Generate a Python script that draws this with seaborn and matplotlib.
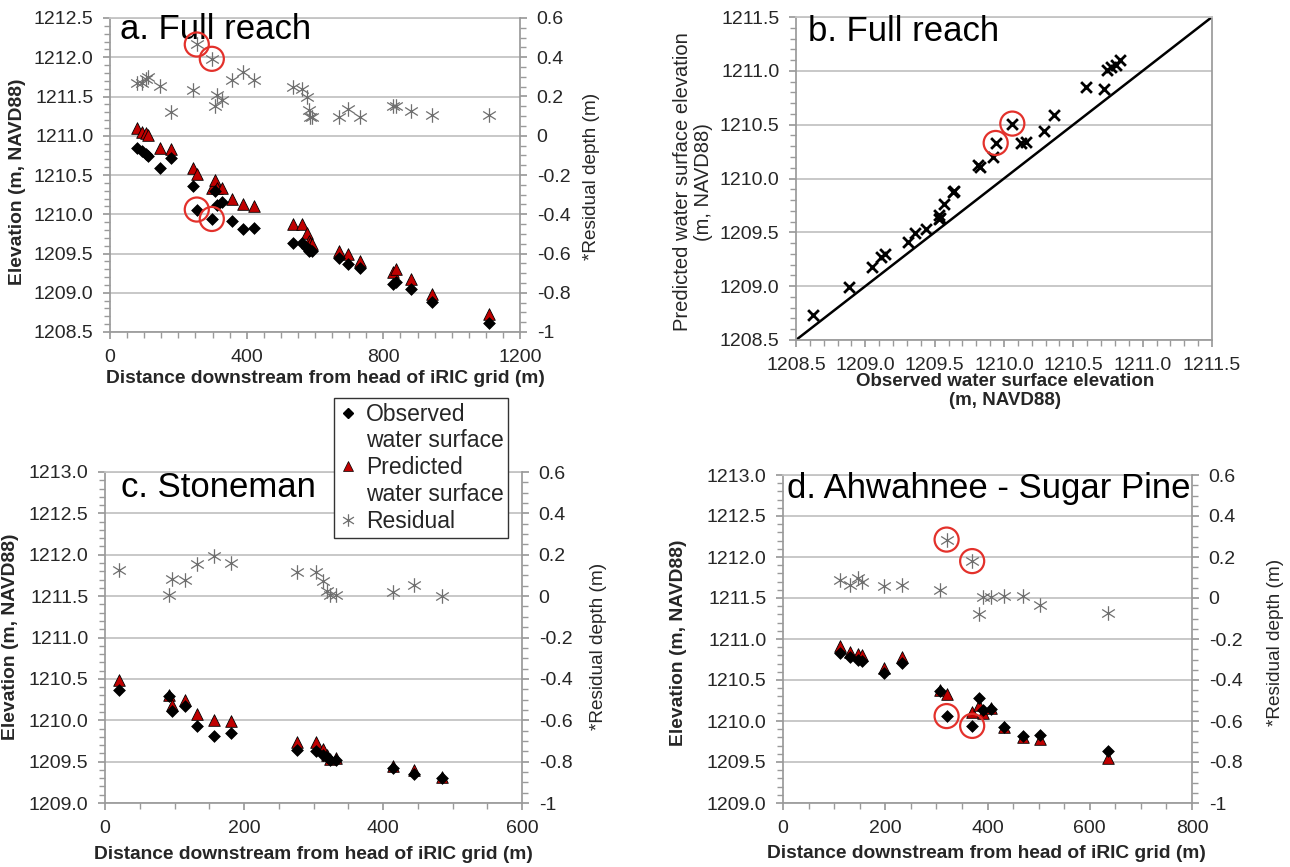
#! /usr/bin/env python3

import matplotlib
matplotlib.use("Agg")
import seaborn as sns
import matplotlib.pyplot as plt
from matplotlib.path import Path
from matplotlib.lines import Line2D
from matplotlib.ticker import MultipleLocator, FuncFormatter

# a. / b. Full reach
full_dist = [80, 93, 104, 110, 146, 178, 244, 254, 298, 307, 314, 329, 357, 390, 422,
             535, 563, 576, 582, 585, 591, 670, 697, 733, 828, 836, 882, 941, 1109]
full_obs = [1210.84, 1210.81, 1210.77, 1210.74, 1210.59, 1210.72, 1210.36, 1210.06, 1209.94,
            1210.29, 1210.12, 1210.16, 1209.92, 1209.81, 1209.83, 1209.64, 1209.63, 1209.57,
            1209.53, 1209.54, 1209.53, 1209.44, 1209.36, 1209.31, 1209.11, 1209.14, 1209.05,
            1208.88, 1208.62]
full_pred = [1211.10, 1211.05, 1211.04, 1211.01, 1210.85, 1210.83, 1210.59, 1210.51, 1210.33,
             1210.44, 1210.33, 1210.34, 1210.20, 1210.13, 1210.11, 1209.88, 1209.87, 1209.76,
             1209.66, 1209.63, 1209.62, 1209.53, 1209.49, 1209.41, 1209.27, 1209.30, 1209.18,
             1208.99, 1208.73]
full_resid = [0.27, 0.27, 0.29, 0.30, 0.254, 0.123, 0.234, 0.465, 0.392, 0.152, 0.209, 0.183,
              0.282, 0.323, 0.282, 0.246, 0.24, 0.197, 0.132, 0.097, 0.094, 0.097, 0.136,
              0.094, 0.151, 0.151, 0.128, 0.105, 0.105]
full_circled = [7, 8]
one_to_one = [1208.5, 1211.5]

# c. Stoneman
stone_dist = [20, 92, 97, 115, 132, 157, 181, 276, 304, 313, 320, 324, 333, 415, 444, 485]
stone_obs = [1210.36, 1210.29, 1210.11, 1210.17, 1209.93, 1209.81, 1209.84, 1209.64, 1209.63,
             1209.58, 1209.55, 1209.52, 1209.52, 1209.42, 1209.35, 1209.30]
stone_pred = [1210.49, 1210.30, 1210.19, 1210.24, 1210.08, 1210.00, 1209.99, 1209.74, 1209.74,
              1209.65, 1209.58, 1209.53, 1209.54, 1209.45, 1209.40, 1209.32]
stone_resid = [0.128, 0.004, 0.084, 0.076, 0.156, 0.192, 0.16, 0.116, 0.116, 0.074, 0.025,
               0.005, 0.005, 0.022, 0.055, 0.0]

# d. Ahwahnee - Sugar Pine
ahw_dist = [112, 132, 146, 154, 197, 232, 307, 320, 370, 384, 392, 406, 432, 469, 502, 636]
ahw_obs = [1210.83, 1210.78, 1210.74, 1210.73, 1210.59, 1210.71, 1210.36, 1210.06, 1209.94,
           1210.28, 1210.13, 1210.15, 1209.93, 1209.82, 1209.83, 1209.63]
ahw_pred = [1210.92, 1210.84, 1210.82, 1210.80, 1210.65, 1210.78, 1210.38, 1210.33, 1210.11,
            1210.20, 1210.10, 1210.16, 1209.93, 1209.80, 1209.78, 1209.55]
ahw_resid = [0.09, 0.062, 0.10, 0.078, 0.059, 0.065, 0.041, 0.285, 0.18, -0.076, 0.005, 0.005,
             0.01, 0.008, -0.036, -0.073]
ahw_circled = [7, 8]

sns.set_theme(style="white")
plt.rcParams['font.family'] = ['Liberation Sans', 'DejaVu Sans']
plt.rcParams['axes.unicode_minus'] = False

SPINE = "#9a9a9a"
GRID = "#c4c4c4"
RED = "#C00000"
RING = "#E3312B"
STAR_GRAY = "#6f6f6f"

# Excel style asterisk: vertical bar plus an X
star = Path([(0, -1), (0, 1), (-0.87, -0.55), (0.87, 0.55), (-0.87, 0.55), (0.87, -0.55)],
            [Path.MOVETO, Path.LINETO] * 3)

fig = plt.figure(figsize=(12.9, 8.67), dpi=100)
W, H = 1290, 867


def rect(x0, x1, y0, y1):
    return [x0 / W, 1 - y1 / H, (x1 - x0) / W, (y1 - y0) / H]


def resid_fmt(v, pos):
    v = round(v, 2)
    return "0" if v == 0 else f"{v:g}"


def base_style(ax):
    ax.grid(axis='y', color=GRID, lw=1.3)
    ax.grid(axis='x', visible=False)
    for s in ['left', 'bottom']:
        ax.spines[s].set_color(SPINE)
    ax.spines['top'].set_color(GRID)
    ax.spines['top'].set_linewidth(1.3)
    ax.spines['right'].set_visible(False)
    ax.tick_params(which='both', direction='out', color=SPINE, labelsize=14,
                   bottom=True, left=True, top=False, right=False)
    ax.tick_params(which='major', length=5, pad=7)
    ax.tick_params(which='minor', length=4)
    ax.set_axisbelow(True)


def rings(ax, xs, ys):
    # red open circles that flag the suspect points
    sns.scatterplot(x=xs, y=ys, ax=ax, marker='o', s=300, color=RING, facecolor='none',
                    edgecolor=RING, linewidth=1.6, zorder=4, legend=False)


def profile_panel(r, dist, obs, pred, resid, xmax, xstep, ylim, title, tx, ty,
                  ylab_xy, rlab_xy, xlab_xy, circled=()):
    ax = fig.add_axes(r)
    ax.set_xlim(0, xmax)
    ax.set_ylim(*ylim)
    ax.xaxis.set_major_locator(MultipleLocator(xstep))
    ax.xaxis.set_minor_locator(MultipleLocator(50))
    ax.yaxis.set_major_locator(MultipleLocator(0.5))
    ax.yaxis.set_minor_locator(MultipleLocator(0.1))
    ax.yaxis.set_major_formatter(FuncFormatter(lambda v, p: f"{v:.1f}"))
    base_style(ax)

    sns.scatterplot(x=dist, y=obs, ax=ax, marker='D', s=36, color='black',
                    edgecolor='black', linewidth=0.5, zorder=3, legend=False)
    sns.scatterplot(x=dist, y=pred, ax=ax, marker='^', s=70, color=RED,
                    edgecolor='black', linewidth=0.6, zorder=2, legend=False)

    ax2 = ax.twinx()
    ax2.set_ylim(-1, 0.6)
    ax2.yaxis.set_major_locator(MultipleLocator(0.2))
    ax2.yaxis.set_minor_locator(MultipleLocator(0.05))
    ax2.yaxis.set_major_formatter(FuncFormatter(resid_fmt))
    for s in ['left', 'bottom', 'top']:
        ax2.spines[s].set_visible(False)
    ax2.spines['right'].set_color(SPINE)
    ax2.tick_params(which='both', direction='out', color=SPINE, labelsize=14,
                    right=True, left=False)
    ax2.tick_params(which='major', length=5, pad=7)
    ax2.tick_params(which='minor', length=4)
    ax2.grid(False)
    sns.scatterplot(x=dist, y=resid, ax=ax2, marker=star, s=110, color=STAR_GRAY,
                    edgecolor=STAR_GRAY, linewidth=0.9, zorder=3, legend=False)

    if circled:
        rings(ax2, [dist[i] for i in circled], [resid[i] for i in circled])
        rings(ax, [dist[i] for i in circled], [obs[i] for i in circled])

    ax.text(tx, ty, title, transform=ax.transAxes, ha='left', va='top', fontsize=25,
            color='black', zorder=5)
    ax.set_xlabel("Distance downstream from head of iRIC grid (m)", fontsize=13.8,
                  fontweight='bold')
    ax.xaxis.set_label_coords(*xlab_xy)
    ax.set_ylabel("Elevation (m, NAVD88)", fontsize=13.9, fontweight='bold')
    ax.yaxis.set_label_coords(*ylab_xy)
    ax2.set_ylabel("*Residual depth (m)", fontsize=13.7)
    ax2.yaxis.set_label_coords(*rlab_xy)
    return ax, ax2


profile_panel(rect(110, 520, 18, 332), full_dist, full_obs, full_pred, full_resid,
              1200, 400, (1208.5, 1212.5), "a. Full reach", 0.024, 1.016,
              (-0.205, 0.48), (1.154, 0.497), (0.526, -0.121), full_circled)

profile_panel(rect(105, 522, 472, 803), stone_dist, stone_obs, stone_pred, stone_resid,
              600, 200, (1209.0, 1213.0), "c. Stoneman", 0.039, 1.002,
              (-0.207, 0.503), (1.164, 0.472), (0.5, -0.131))

profile_panel(rect(783, 1192, 475, 803), ahw_dist, ahw_obs, ahw_pred, ahw_resid,
              800, 200, (1209.0, 1213.0), "d. Ahwahnee - Sugar Pine", 0.009, 1.01,
              (-0.235, 0.49), (1.183, 0.49), (0.497, -0.129), ahw_circled)

# b. observed vs predicted
axb = fig.add_axes(rect(796, 1212, 17, 340))
axb.set_xlim(1208.5, 1211.5)
axb.set_ylim(1208.5, 1211.5)
for axis in (axb.xaxis, axb.yaxis):
    axis.set_major_locator(MultipleLocator(0.5))
    axis.set_minor_locator(MultipleLocator(0.1))
    axis.set_major_formatter(FuncFormatter(lambda v, p: f"{v:.1f}"))
base_style(axb)
axb.spines['right'].set_visible(True)
axb.spines['right'].set_color(SPINE)
sns.lineplot(x=one_to_one, y=one_to_one, ax=axb, color='black', lw=1.8, zorder=2)
sns.scatterplot(x=full_obs, y=full_pred, ax=axb, marker='x', s=60, color='black',
                linewidth=2.0, zorder=3, legend=False)
rings(axb, [full_obs[i] for i in full_circled], [full_pred[i] for i in full_circled])
axb.text(0.029, 1.006, "b. Full reach", transform=axb.transAxes, ha='left', va='top',
         fontsize=25, color='black')
axb.set_xlabel("Observed water surface elevation\n(m, NAVD88)", fontsize=13.5,
               fontweight='bold', linespacing=1.15)
axb.xaxis.set_label_coords(0.502, -0.102)
axb.set_ylabel("Predicted water surface elevation\n(m, NAVD88)", fontsize=14.5,
               linespacing=1.1)
axb.yaxis.set_label_coords(-0.2, 0.49)

# shared legend
handles = [
    Line2D([], [], ls='none', marker='D', markersize=5, color='black'),
    Line2D([], [], ls='none'),
    Line2D([], [], ls='none', marker='^', markersize=7, markerfacecolor=RED,
           markeredgecolor='black', markeredgewidth=0.5),
    Line2D([], [], ls='none'),
    Line2D([], [], ls='none', marker=star, markersize=9, markeredgecolor=STAR_GRAY,
           markerfacecolor=STAR_GRAY, markeredgewidth=0.9),
]
labels = ["Observed", "water surface", "Predicted", "water surface", "Residual"]
leg = fig.legend(handles, labels, loc='upper left', bbox_to_anchor=(334 / W, 1 - 398 / H),
                 fontsize=16.5, frameon=True, fancybox=False, edgecolor='#333333',
                 framealpha=1, borderpad=0.2, labelspacing=0.17, handlelength=0.8,
                 handletextpad=0.4, borderaxespad=0)
leg.get_frame().set_linewidth(1.0)

plt.savefig("out.png", dpi=100)
